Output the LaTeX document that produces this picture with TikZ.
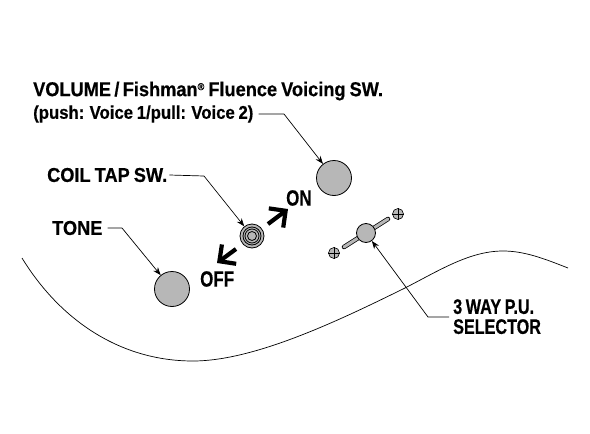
\documentclass[tikz,border=0pt]{standalone}
\usepackage{fontspec}
\setmainfont[FakeStretch=0.91,WordSpace=0.8,BoldFeatures={FakeBold=0.45}]{Liberation Sans}
\newfontfamily\narrowfont[FakeStretch=0.77,WordSpace=0.8,BoldFeatures={FakeBold=0.45}]{Liberation Sans}
\usetikzlibrary{arrows.meta}
\definecolor{knobgray}{RGB}{183,183,183}
\tikzset{
  label text/.style={font=\bfseries\fontsize{20}{20}\selectfont, inner sep=0pt, align=left},
  switch text/.style={font=\narrowfont\bfseries\fontsize{22}{22}\selectfont, inner sep=0pt},
  knob/.style={circle, draw=black, fill=knobgray, line width=0.8pt, minimum size=35pt, inner sep=0pt},
  leader/.style={line width=0.7pt, -{Stealth[length=8pt,width=6pt]}},
  switch arrow/.style={line width=4.2pt, -{Straight Barb[length=12pt,width=24pt,line width=4.2pt]}},
  screw/.style={circle, draw=black, fill=knobgray, line width=0.6pt, minimum size=11pt, inner sep=0pt}
}
\begin{document}
\begin{tikzpicture}[x=1pt, y=-1pt]
    \useasboundingbox (0,0) rectangle (590,434);
    % labels
    \node[label text, anchor=west] (volumelabel) at (33,91) {VOLUME\,/\,Fishman{\fontsize{10}{10}\selectfont\raisebox{6pt}{®}} Fluence Voicing SW.};
    \node[label text, anchor=west, font=\bfseries\fontsize{18.4}{20}\selectfont] (pushlabel) at (33,114) {(push: Voice 1/pull: Voice 2)};
    \node[label text, anchor=west] (coillabel) at (47,175) {COIL TAP SW.};
    \node[label text, anchor=west] (tonelabel) at (52,228) {TONE};
    \node[switch text, anchor=west] (onlabel) at (286,198) {ON};
    \node[switch text, anchor=west] (offlabel) at (200,279) {OFF};
    \node[label text, anchor=north west, font=\narrowfont\bfseries\fontsize{21}{20}\selectfont] (selectorlabel) at (453,299) {3 WAY P.U.\\SELECTOR};

    % body outline
    \draw[line width=0.7pt] (22,258) .. controls (60,320) and (120,361) .. (193,361)
        .. controls (255,361) and (340,320) .. (405,288)
        .. controls (440,270) and (470,251) .. (503,251)
        .. controls (525,251) and (545,259) .. (568,268);

    % knobs
    \node[knob] (volumeknob) at (334,178) {};
    \node[knob] (toneknob) at (172,289) {};

    % coil tap switch
    \node[circle, draw=black, fill=knobgray, line width=0.8pt, minimum size=24pt, inner sep=0pt] (coilswitch) at (252,236) {};
    \draw[line width=0.8pt] (coilswitch.center) circle (9);
    \draw[line width=0.8pt] (coilswitch.center) circle (7);
    \draw[line width=0.8pt, fill=knobgray] (coilswitch.center) circle (4.5);

    % pickup selector
    \coordinate (barleft) at (344,247);
    \coordinate (barright) at (388,219);
    \draw[line width=4.5pt, line cap=round] (barleft) -- (barright);
    \draw[line width=3pt, line cap=round, knobgray] (barleft) -- (barright);
    \node[knob, minimum size=19pt] (selectorknob) at (366,233) {};
    \node[screw] (screwright) at (398,214) {};
    \node[screw] (screwleft) at (334,253) {};
    \foreach \scr in {screwright, screwleft} {
        \draw[line width=0.6pt] (\scr.north) -- (\scr.south);
        \draw[line width=0.6pt] (\scr.west) -- (\scr.east);
    }

    % leaders
    \coordinate (volumebend) at (284,114);
    \coordinate (coilbend) at (204,176);
    \coordinate (tonebend) at (122,228);
    \coordinate (selectorbend) at (428,317);
    \coordinate (selectorstart) at (449,317);
    \draw[leader] (pushlabel.east) ++(5,0) -- (volumebend) -- (volumeknob);
    \draw[leader] (coillabel.east) ++(2,0) -- (coilbend) -- (coilswitch);
    \draw[leader] (tonelabel.east) ++(5,0) -- (tonebend) -- (toneknob);
    \draw[leader] (selectorstart) -- (selectorbend) -- (selectorknob);

    % switch arrows
    \coordinate (ontail) at (268,224);
    \coordinate (ontip) at (288,209);
    \coordinate (offtail) at (236,249);
    \coordinate (offtip) at (217,263);
    \draw[switch arrow] (ontail) -- (ontip);
    \draw[switch arrow] (offtail) -- (offtip);
\end{tikzpicture}
\end{document}
